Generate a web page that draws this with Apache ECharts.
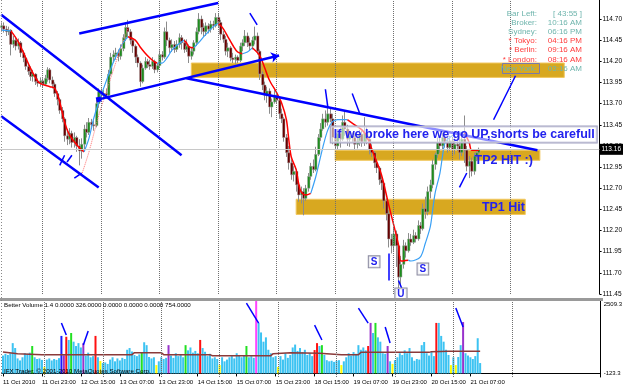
<!DOCTYPE html>
<html><head><meta charset="utf-8">
<script src="https://cdn.jsdelivr.net/npm/echarts@6/dist/echarts.min.js"></script>
<style>html,body{margin:0;padding:0;background:#fff}#c{width:625px;height:387px}</style>
</head><body><div id="c"></div>
<script>
// ---------- DATA ----------
const timeLabels = ["11 Oct 2010","11 Oct 23:00","12 Oct 15:00","13 Oct 07:00","13 Oct 23:00","14 Oct 15:00","15 Oct 07:00","15 Oct 23:00","18 Oct 15:00","19 Oct 07:00","19 Oct 23:00","20 Oct 15:00","21 Oct 07:00"];
const dayStarts = [17,41,65,89,113,137,161,185,209];
const priceMin = 111.45, priceMax = 114.925, priceStep = 0.25;
const lastPrice = 113.16;
const volMin = -123.3, volMax = 2509.3;

const open = [114.60,114.62,114.58,114.55,114.57,114.40,114.45,114.38,114.42,114.30,
114.24,114.14,114.08,114.02,114.05,113.96,113.94,113.97,113.93,114.00,
114.10,113.98,113.93,113.82,113.75,113.62,113.52,113.32,113.28,113.35,
113.24,113.30,113.20,113.14,113.22,113.40,113.36,113.48,113.45,113.44,
113.70,113.84,113.80,113.82,113.80,114.05,114.25,114.28,114.30,114.26,
114.35,114.48,114.60,114.55,114.45,114.38,114.25,114.18,113.96,114.12,
114.20,114.16,114.14,114.20,114.10,114.15,114.28,114.25,114.55,114.45,
114.36,114.40,114.34,114.40,114.48,114.42,114.34,114.38,114.26,114.32,
114.42,114.55,114.70,114.60,114.55,114.62,114.58,114.64,114.62,114.72,
114.66,114.52,114.46,114.32,114.36,114.24,114.22,114.25,114.21,114.38,
114.42,114.50,114.42,114.38,114.45,114.50,114.32,114.05,113.92,113.80,
113.85,113.66,113.72,113.80,113.74,113.58,113.52,113.30,113.12,113.00,
112.86,112.90,112.74,112.62,112.66,112.58,112.70,112.84,112.96,112.92,
113.10,113.30,113.40,113.52,113.48,113.58,113.52,113.30,113.20,113.35,
113.28,113.48,113.40,113.28,113.32,113.30,113.22,113.26,113.34,113.24,
113.35,113.28,113.16,113.12,113.00,112.94,112.80,112.76,112.55,112.40,
112.10,112.02,112.16,112.02,111.65,111.80,112.02,111.96,112.10,112.06,
112.14,112.10,112.26,112.22,112.46,112.42,112.66,112.74,112.98,113.10,
113.24,113.20,113.30,113.24,113.18,113.26,113.16,113.22,113.20,113.12,
113.28,113.15,112.96,113.02,112.90,113.08,113.12];
const close = [114.62,114.58,114.55,114.57,114.40,114.45,114.38,114.42,114.30,114.24,
114.14,114.08,114.02,114.05,113.96,113.94,113.97,113.93,114.00,114.10,
113.98,113.93,113.82,113.75,113.62,113.52,113.32,113.28,113.35,113.24,
113.30,113.20,113.14,113.22,113.40,113.36,113.48,113.45,113.44,113.70,
113.84,113.80,113.82,113.80,114.05,114.25,114.28,114.30,114.26,114.35,
114.48,114.60,114.55,114.45,114.38,114.25,114.18,113.96,114.12,114.20,
114.16,114.14,114.20,114.10,114.15,114.28,114.25,114.55,114.45,114.36,
114.40,114.34,114.40,114.48,114.42,114.34,114.38,114.26,114.32,114.42,
114.55,114.70,114.60,114.55,114.62,114.58,114.64,114.62,114.72,114.66,
114.52,114.46,114.32,114.36,114.24,114.22,114.25,114.21,114.38,114.42,
114.50,114.42,114.38,114.45,114.50,114.32,114.05,113.92,113.80,113.85,
113.66,113.72,113.80,113.74,113.58,113.52,113.30,113.12,113.00,112.86,
112.90,112.74,112.62,112.66,112.58,112.70,112.84,112.96,112.92,113.10,
113.30,113.40,113.52,113.48,113.58,113.52,113.30,113.20,113.35,113.28,
113.48,113.40,113.28,113.32,113.30,113.22,113.26,113.34,113.24,113.35,
113.28,113.16,113.12,113.00,112.94,112.80,112.76,112.55,112.40,112.10,
112.02,112.16,112.02,111.65,111.80,112.02,111.96,112.10,112.06,112.14,
112.10,112.26,112.22,112.46,112.42,112.66,112.74,112.98,113.10,113.24,
113.20,113.30,113.24,113.18,113.26,113.16,113.22,113.20,113.12,113.28,
113.15,112.96,113.02,112.90,113.08,113.12,113.16];
const low = [114.55,114.54,114.50,114.51,114.27,114.36,114.33,114.34,114.25,114.19,
114.10,114.04,113.97,113.96,113.92,113.90,113.90,113.89,113.91,113.96,
113.94,113.88,113.78,113.68,113.58,113.48,113.25,113.21,113.22,113.18,
113.18,113.13,112.97,113.05,113.15,113.30,113.33,113.40,113.38,113.42,
113.65,113.76,113.76,113.76,113.78,114.03,114.20,114.22,114.20,114.22,
114.32,114.44,114.48,114.40,114.30,114.18,114.13,113.90,113.94,114.10,
114.12,114.10,114.11,114.06,114.07,114.13,114.21,114.23,114.38,114.30,
114.31,114.30,114.31,114.36,114.34,114.30,114.31,114.18,114.22,114.28,
114.38,114.52,114.52,114.49,114.50,114.53,114.54,114.57,114.60,114.60,
114.45,114.42,114.27,114.25,114.20,114.18,114.17,114.18,114.19,114.32,
114.38,114.37,114.33,114.34,114.40,114.28,113.98,113.86,113.74,113.71,
113.58,113.54,113.70,113.70,113.52,113.47,113.25,113.07,112.92,112.80,
112.78,112.66,112.54,112.52,112.38,112.55,112.66,112.80,112.88,112.90,
113.08,113.26,113.38,113.42,113.44,113.48,113.22,113.15,113.16,113.18,
113.26,113.32,113.20,113.19,113.24,113.15,113.17,113.20,113.19,113.20,
113.22,113.10,113.07,112.94,112.88,112.74,112.68,112.46,112.32,112.00,
111.93,111.96,111.77,111.50,111.54,111.75,111.88,111.94,112.02,112.04,
112.06,112.08,112.16,112.20,112.34,112.38,112.58,112.70,112.92,113.06,
113.12,113.15,113.18,113.12,113.14,113.08,113.10,113.14,113.04,113.08,
113.00,112.90,112.82,112.84,112.86,113.02,113.06];
const high = [114.66,114.66,114.62,114.61,114.58,114.50,114.49,114.47,114.44,114.33,
114.27,114.18,114.14,114.10,114.06,114.00,114.01,114.00,114.04,114.13,
114.12,114.02,113.95,113.85,113.77,113.66,113.54,113.40,113.41,113.38,
113.36,113.32,113.28,113.29,113.45,113.48,113.53,113.52,113.50,113.75,
113.88,113.88,113.86,113.88,114.10,114.30,114.33,114.36,114.34,114.40,
114.52,114.66,114.69,114.58,114.48,114.40,114.28,114.20,114.16,114.25,
114.23,114.22,114.25,114.22,114.18,114.33,114.32,114.60,114.67,114.48,
114.46,114.44,114.45,114.53,114.51,114.46,114.46,114.40,114.36,114.45,
114.60,114.77,114.74,114.65,114.66,114.65,114.68,114.68,114.77,114.76,
114.69,114.56,114.50,114.42,114.38,114.30,114.28,114.27,114.42,114.46,
114.57,114.54,114.48,114.49,114.61,114.54,114.34,114.08,113.96,113.90,
113.88,113.76,113.86,113.84,113.78,113.64,113.54,113.34,113.20,113.04,
112.96,112.93,112.78,112.72,112.70,112.74,112.88,113.00,113.04,113.19,
113.34,113.47,113.58,113.62,113.66,113.64,113.58,113.36,113.40,113.42,
113.56,113.62,113.45,113.38,113.36,113.35,113.32,113.39,113.38,113.54,
113.42,113.30,113.22,113.14,113.05,112.96,112.86,112.78,112.58,112.44,
112.16,112.24,112.20,112.05,111.90,112.09,112.06,112.17,112.16,112.21,
112.18,112.32,112.30,112.52,112.60,112.72,112.80,113.04,113.12,113.30,
113.32,113.36,113.34,113.30,113.32,113.30,113.28,113.27,113.32,113.35,
113.56,113.20,113.08,113.06,113.12,113.16,113.18];

const volume = [620,680,640,700,1050,880,520,450,560,700,
680,720,950,560,500,520,470,220,480,520,
450,500,470,530,1300,630,1270,1160,1400,1100,
950,1050,900,1050,620,720,560,600,1300,560,
430,360,380,330,480,560,420,520,450,540,
500,820,880,760,640,600,660,740,1080,980,
570,520,560,290,420,560,500,540,980,620,
540,700,600,650,560,980,800,900,720,780,
700,1160,880,750,600,680,520,560,500,290,
560,420,480,560,600,520,700,640,560,620,
950,560,600,540,2509,1750,1420,1100,1250,820,
700,560,600,220,600,480,700,540,640,900,
1000,780,880,740,820,640,700,600,810,1050,
950,980,640,460,420,440,400,440,460,290,
420,560,700,620,740,680,980,820,900,800,
950,1750,1400,1750,1250,1100,700,680,950,420,
330,460,560,700,640,800,700,880,560,440,
500,480,980,1090,700,620,740,600,1750,1750,
1300,1100,820,640,290,560,290,570,980,1780,
700,620,560,500,600,1220,360];
const volKind = ("nnnnnnnnnn"+"nngnnnnynn"+"nnnnbprngn"+"nnnpnnnnrn"+"ynnnnnnnnn"+
"nnnnnnngnn"+"nnnynnnnpn"+"nnnnngnnnn"+"nrnnnnnnny"+"nnnnnnnnnn"+
"gnnnmnnnnn"+"nnnynnnnnn"+"nnnnnnnnrr"+"ngnnnnnnny"+"nnnnnnnnnn"+
"rpngnnnnpn"+"ynnnnnnnnn"+"nnnnnnnnrn"+"nnnnynynnp"+"nnnnnnn").split('');
const volAvg = [[0,744],[6,684],[16,650],[53,650],[54,720],[65,720],[66,650],[85,650],[86,615],[110,615],[111,684],[118,720],[130,700],[139,650],[146,650],[147,730],[175,730],[176,755],[183,770],[196,770]];

const maBlue = [
 [[0,114.57],[4,114.56]],
 [[34,113.13],[36,113.29],[38,113.53],[40,113.72],[42,113.88],[44,114.04],[46,114.19],[48,114.31],[50,114.42],[52,114.49]],
 [[64,114.18],[66,114.18],[68,114.24],[70,114.33],[73,114.41],[75,114.45]],
 [[79,114.36],[81,114.42],[83,114.49],[85,114.55],[87,114.61],[89,114.65]],
 [[99,114.29],[101,114.31],[103,114.36]],
 [[127,112.64],[129,112.83],[132,113.19],[134,113.39],[136,113.49],[138,113.51],[142,113.51]],
 [[167,111.85],[168,111.84],[172,111.89],[174,112.05],[176,112.24],[177,112.44],[178,112.64],[180,112.88],[181,113.07],[182,113.23],[184,113.30],[188,113.36],[190,113.36]]
];
const maRed = [
 [[4,114.56],[7,114.43],[12,114.12],[14,114.01],[16,113.94],[20,113.90],[22,113.88],[24,113.72],[26,113.48],[28,113.33],[30,113.25],[32,113.18],[34,113.13]],
 [[52,114.49],[55,114.45],[57,114.37],[59,114.30],[61,114.24],[63,114.19],[64,114.18]],
 [[75,114.45],[76,114.42],[77,114.37],[79,114.36]],
 [[89,114.65],[91,114.59],[93,114.49],[95,114.39],[97,114.31],[99,114.29]],
 [[103,114.36],[106,114.27],[108,114.13],[110,113.98],[113,113.83],[115,113.71],[117,113.51],[118,113.27],[119,113.07],[121,112.92],[122,112.76],[123,112.66],[125,112.62],[127,112.64]],
 [[142,113.51],[145,113.45],[148,113.39],[150,113.31],[153,113.09],[156,112.86],[159,112.50],[161,112.27],[163,112.03],[164,111.84],[167,111.85]],
 [[190,113.36],[192,113.24],[193,113.15],[196,113.15]]
];
const maPink = [[33,112.86],[36,113.13],[40,113.56],[44,113.92],[48,114.27],[52,114.59]];

// drawn objects: [bar1, price1, bar2, price2]
const trendLines = [[0,114.75,74.2,113.09],[0,113.55,40.3,112.71],[32.2,114.53,89.3,114.89],[75.8,114.00,219.8,113.15]];
const arrowLine = [40.3,113.75,113.7,114.27];
const strokes = [[102.3,114.77,104.8,114.63],[132.5,113.87,133.8,113.66],[143.5,113.82,147.2,113.59],[158.6,111.93,158.6,111.61],[202.3,113.51,210.9,114.03],[188.4,112.71,191.3,112.88],[24,112.97,26,113.09],[27.3,113.01,28.9,113.09],[30.1,112.82,33,112.88],[162.7,111.61,164.8,111.47]];
const volStrokes = [[24,1746,26.4,1330],[33,984,34.6,1469],[99.5,2438,104.8,1746],[128,1676,130.5,1157],[146.4,2265,149.7,1746],[157.4,1607,158.6,1053],[186.4,2265,188.8,1607]];
const zones = [[78,114.18,230.8,114.01],[137.4,113.15,220.6,113.03],[120.7,112.57,214.5,112.39]];
const notes = [["If we broke here we go UP,shorts be carefull",135.4,113.335,true],["TP2 HIT :)",194.1,113.03,false],["TP1 Hit",197.4,112.466,false]];
const signs = [["S",152.7,111.83],["S",173.0,111.745],["U",164.1,111.45]];
const clockRows = [["Bar Left:","[ 43:55 ]",0],["Broker:","10:16 AM",0],["Sydney:","06:16 PM",0],["* Tokyo:","04:16 PM",1],["* Berlin:","09:16 AM",1],["* London:","08:16 AM",1],["New York:","03:16 AM",0]];
const volTitle = "Better Volume 1.4 0.0000 326.0000 0.0000 0.0000 0.0000 754.0000";
const copyright = "IFX Trader, \u00a9 2001-2010 MetaQuotes Software Corp.";

// ---------- CHART ----------
const FONT = "'Liberation Sans', Arial, sans-serif";
const N = 246;
const cats = Array.from({length: N}, (_, i) => String(i));
const volColors = {n:'#3cc3f2', r:'#ff1010', g:'#22e022', y:'#ffff00', m:'#ff44ff', p:'#9933cc', b:'#1a1aff'};
const near = (a, b) => Math.abs(a - b) < 1e-6 * Math.max(1, Math.abs(b));
const blue = '#0000ff';
const textBlue = '#2222ee';

function renderCandle(params, api) {
  const i = api.value(0), o = api.value(1), c = api.value(2), l = api.value(3), h = api.value(4);
  const pO = api.coord([i, o]), pC = api.coord([i, c]), pL = api.coord([i, l]), pH = api.coord([i, h]);
  const cx = Math.floor(pO[0]);
  const top = Math.min(pO[1], pC[1]);
  const hgt = Math.max(1, Math.abs(pO[1] - pC[1]));
  return {type: 'group', children: [
    {type: 'line', shape: {x1: cx + 0.5, y1: pH[1], x2: cx + 0.5, y2: pL[1]}, style: {stroke: '#8c8c8c', lineWidth: 1}},
    {type: 'rect', shape: {x: cx - 0.5, y: top, width: 2.5, height: hgt}, style: {fill: c >= o ? '#1e8c1e' : '#660000', stroke: '#a8a8a8', lineWidth: 0.5}}
  ]};
}

const series = [];
// zones
series.push({type: 'line', xAxisIndex: 0, yAxisIndex: 0, data: [], z: 1, silent: true,
  markArea: {silent: true, itemStyle: {color: '#d8a820', borderColor: '#f2c860', borderWidth: 1},
    data: zones.map(z => [{coord: [z[0], z[1]]}, {coord: [z[2], z[3]]}])}});
// day grid lines (both panels) + last price line
series.push({type: 'line', xAxisIndex: 0, yAxisIndex: 0, data: [], z: 2, silent: true,
  markLine: {silent: true, symbol: 'none', animation: false,
    lineStyle: {type: 'dotted', color: '#6f6f6f', width: 1},
    label: {show: false},
    data: dayStarts.map(d => ({xAxis: d})).concat([{yAxis: lastPrice, lineStyle: {type: 'solid', color: '#c8c8c8', width: 1},
      label: {show: true, position: 'end', distance: 0, formatter: lastPrice.toFixed(2), color: '#fff', backgroundColor: '#000',
        fontSize: 6.5, fontFamily: FONT, padding: [2, 2, 2, 2]}}])}});
series.push({type: 'line', xAxisIndex: 1, yAxisIndex: 1, data: [], z: 2, silent: true,
  markLine: {silent: true, symbol: 'none', animation: false,
    lineStyle: {type: 'dotted', color: '#6f6f6f', width: 1}, label: {show: false},
    data: dayStarts.map(d => ({xAxis: d}))}});
// candles
series.push({type: 'custom', xAxisIndex: 0, yAxisIndex: 0, z: 3, silent: true,
  renderItem: renderCandle, encode: {x: 0, y: [1, 2, 3, 4]},
  data: open.map((o, i) => [i, o, close[i], low[i], high[i]])});
// moving average segments
maRed.forEach(seg => series.push({type: 'line', xAxisIndex: 0, yAxisIndex: 0, z: 4, silent: true, data: seg,
  showSymbol: false, smooth: 0.3, lineStyle: {color: '#ff0000', width: 1.5}}));
maBlue.forEach(seg => series.push({type: 'line', xAxisIndex: 0, yAxisIndex: 0, z: 4, silent: true, data: seg,
  showSymbol: false, smooth: 0.3, lineStyle: {color: '#3aa0f5', width: 1.2}}));
series.push({type: 'line', xAxisIndex: 0, yAxisIndex: 0, z: 4, silent: true, data: maPink,
  showSymbol: false, smooth: 0.3, lineStyle: {color: '#ff7070', width: 1, type: 'dotted'}});
// trend lines and strokes
const tl = trendLines.map(t => [{coord: [t[0], t[1]], lineStyle: {width: 2.5}}, {coord: [t[2], t[3]]}]);
tl.push([{coord: [arrowLine[0], arrowLine[1]], symbol: 'rect', symbolSize: 5, lineStyle: {width: 2.5}}, {coord: [arrowLine[2], arrowLine[3]], symbol: 'arrow', symbolSize: 8}]);
strokes.forEach(s => tl.push([{coord: [s[0], s[1]], lineStyle: {width: 1.5}}, {coord: [s[2], s[3]]}]));
series.push({type: 'line', xAxisIndex: 0, yAxisIndex: 0, data: [], z: 5, silent: true,
  markLine: {silent: true, symbol: 'none', animation: false, label: {show: false},
    lineStyle: {type: 'solid', color: blue, width: 2}, data: tl}});
// notes
series.push({type: 'line', xAxisIndex: 0, yAxisIndex: 0, data: [], z: 6, silent: true,
  markPoint: {silent: true, symbol: 'rect', symbolSize: 1, itemStyle: {color: 'rgba(0,0,0,0)'}, animation: false,
    data: notes.map(n => ({coord: [n[1], n[2]], label: {show: true, position: 'right', distance: 0, formatter: n[0],
      color: textBlue, fontWeight: 'bold', fontSize: 12.5, fontFamily: FONT,
      backgroundColor: n[3] ? 'rgba(255,255,255,0.55)' : 'transparent', borderColor: n[3] ? '#a0a0c0' : 'transparent',
      borderWidth: n[3] ? 1 : 0, padding: n[3] ? [2, 2, 1, 3] : 0}}))
      .concat(signs.map(s => ({coord: [s[1], s[2]], label: {show: true, position: 'inside', formatter: s[0],
      color: textBlue, fontWeight: 'bold', fontSize: 10, fontFamily: FONT, backgroundColor: 'rgba(255,255,255,0.8)',
      borderColor: '#8a8aa0', borderWidth: 1, padding: [1, 2, 0, 2]}})))}});
// volume
series.push({type: 'bar', xAxisIndex: 1, yAxisIndex: 1, z: 3, silent: true, barWidth: 2,
  data: volume.map((v, i) => ({value: v, itemStyle: {color: volColors[volKind[i]]}}))});
series.push({type: 'line', xAxisIndex: 1, yAxisIndex: 1, z: 4, silent: true, data: volAvg, showSymbol: false,
  lineStyle: {color: '#8b3a3a', width: 1.5}});
series.push({type: 'line', xAxisIndex: 1, yAxisIndex: 1, data: [], z: 5, silent: true,
  markLine: {silent: true, symbol: 'none', animation: false, label: {show: false},
    lineStyle: {type: 'solid', color: blue, width: 1.5},
    data: volStrokes.map(s => [{coord: [s[0], s[1]]}, {coord: [s[2], s[3]]}])}});

const graphic = [
  {type: 'rect', z: 50, shape: {x: 0, y: 298, width: 603, height: 3}, style: {fill: '#9a9a9a'}},
  {type: 'line', z: 50, shape: {x1: 1.5, y1: 0, x2: 1.5, y2: 377}, style: {stroke: '#888', lineDash: [1, 2], lineWidth: 1}},
  {type: 'text', z: 50, x: 4, y: 305, style: {text: volTitle, fill: '#000', font: '6.2px ' + FONT, verticalAlign: 'middle'}},
  {type: 'text', z: 50, x: 4, y: 371, style: {text: copyright, fill: '#000', font: '6.2px ' + FONT, verticalAlign: 'middle'}},
  {type: 'rect', z: 49, shape: {x: 502.5, y: 63.5, width: 37, height: 10}, style: {fill: 'none', stroke: '#7a7aa8', lineWidth: 1}}
];
clockRows.forEach((r, k) => {
  const col = r[2] ? '#ff3b3b' : '#6fb5ad';
  const y = 13.3 + k * 9.2;
  graphic.push({type: 'text', z: 50, x: 537, y: y, style: {text: r[0], fill: col, font: '8px ' + FONT, align: 'right', verticalAlign: 'middle'}});
  graphic.push({type: 'text', z: 50, x: 582, y: y, style: {text: r[1], fill: col, font: '8px ' + FONT, align: 'right', verticalAlign: 'middle'}});
});

const labelIdx = (i) => i % 16 === 0 && (i / 16) < timeLabels.length;
const option = {
  animation: false,
  backgroundColor: '#fff',
  grid: [{left: 0, right: 22, top: 0, height: 294}, {left: 0, right: 22, top: 301, height: 76}],
  xAxis: [
    {type: 'category', gridIndex: 0, data: cats, axisLine: {show: false}, axisTick: {show: false}, axisLabel: {show: false}, splitLine: {show: false}},
    {type: 'category', gridIndex: 1, data: cats, axisLine: {show: true, lineStyle: {color: '#000', width: 1}},
      axisTick: {show: true, interval: labelIdx, length: 3, alignWithLabel: true, lineStyle: {color: '#000'}},
      axisLabel: {interval: labelIdx, formatter: (v, i) => timeLabels[Number(v) / 16] || '', fontSize: 6, fontFamily: FONT, color: '#000', align: 'left', margin: 2},
      splitLine: {show: false}}
  ],
  yAxis: [
    {type: 'value', gridIndex: 0, position: 'right', min: priceMin, max: priceMax, interval: priceStep,
      axisLine: {show: true, lineStyle: {color: '#000'}}, axisTick: {show: true, length: 2, lineStyle: {color: '#000'}},
      axisLabel: {fontSize: 6.5, fontFamily: FONT, color: '#000', margin: 3, showMaxLabel: false,
        formatter: v => near(v, priceMax) ? '' : v.toFixed(2)}, splitLine: {show: false}},
    {type: 'value', gridIndex: 1, position: 'right', min: volMin, max: volMax, interval: volMax - volMin,
      axisLine: {show: true, lineStyle: {color: '#000'}}, axisTick: {show: false},
      axisLabel: {fontSize: 6, fontFamily: FONT, color: '#000', margin: 3, showMinLabel: true, showMaxLabel: true,
        formatter: v => near(v, volMax) ? '{t|' + volMax.toFixed(1) + '}' : (near(v, volMin) ? '{b|' + volMin.toFixed(1) + '}' : ''),
        rich: {t: {fontSize: 6, fontFamily: FONT, color: '#000', padding: [7, 0, 0, 0]}, b: {fontSize: 6, fontFamily: FONT, color: '#000', padding: [0, 0, 8, 0]}}},
      splitLine: {show: false}}
  ],
  graphic: graphic,
  series: series
};
echarts.init(document.getElementById('c'), null, {renderer: 'canvas'}).setOption(option);
</script></body></html>
